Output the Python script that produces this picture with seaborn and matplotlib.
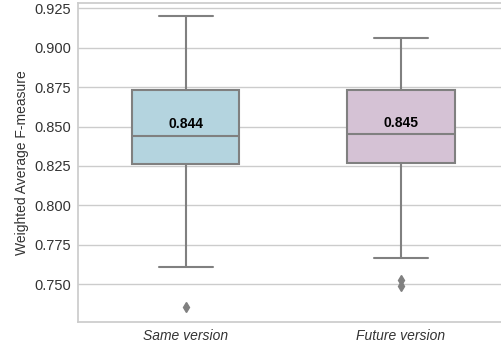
import matplotlib
matplotlib.use("Agg")
import matplotlib.pyplot as plt
import pandas as pd
import seaborn as sns

# 박스플롯 재현용 값
categories = ["Same version", "Future version"]
same_scores = [0.7355, 0.761, 0.790, 0.8264, 0.832, 0.838, 0.844,
               0.852, 0.862, 0.8735, 0.885, 0.900, 0.920]
future_scores = [0.749, 0.7528, 0.7666, 0.8268, 0.834, 0.840, 0.845,
                 0.853, 0.863, 0.8735, 0.884, 0.895, 0.906]
medians = [0.844, 0.845]
box_colors = ["lightblue", "thistle"]

df = pd.DataFrame({
    "version": [categories[0]] * len(same_scores) + [categories[1]] * len(future_scores),
    "score": same_scores + future_scores,
})

sns.set_theme(style="whitegrid")
plt.rcParams["font.family"] = ["Liberation Sans", "DejaVu Sans"]

fig = plt.figure(figsize=(5.01, 3.47), dpi=100)
ax = fig.add_axes([0.1557, 0.072, 0.8593, 0.920])

sns.boxplot(data=df, x="version", y="score", hue="version", order=categories,
            palette=box_colors, width=0.5, legend=False, linecolor="#808080",
            linewidth=1.5,
            flierprops=dict(marker="d", markersize=5, markerfacecolor="#808080",
                            markeredgecolor="#808080"),
            ax=ax)

# 중앙값 표시
for i, m in enumerate(medians):
    ax.text(i, m + 0.003, f"{m:.3f}", ha="center", va="bottom",
            fontsize=10, fontweight="bold", color="black")

ax.set_ylim(0.7259, 0.9286)
ax.set_xlim(-0.5, 1.5)
ax.set_xlabel("")
ax.set_ylabel("Weighted Average F-measure", fontsize=10, color="#333333", labelpad=4)
ax.tick_params(axis="y", labelsize=10.5, labelcolor="#333333", length=0, pad=5)
ax.tick_params(axis="x", labelsize=10, labelcolor="#333333", length=0, pad=5)
for lab in ax.get_xticklabels():
    lab.set_fontstyle("italic")

fig.savefig("out.png", dpi=100)
